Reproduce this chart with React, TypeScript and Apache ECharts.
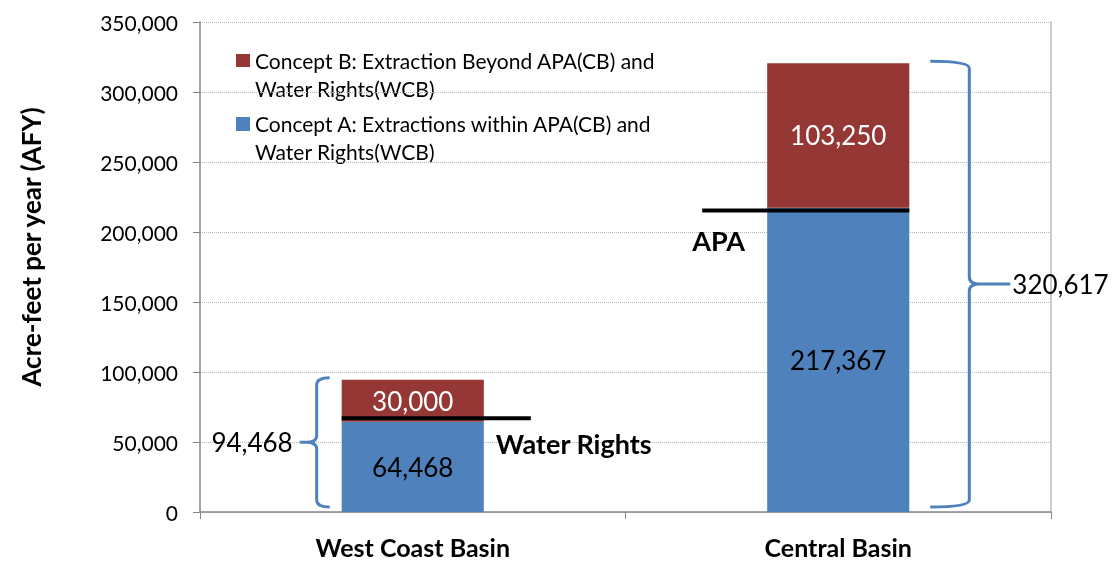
import React, { useEffect, useRef } from "react";
import * as echarts from "echarts";

// ---- data ----
const categories = ["West Coast Basin", "Central Basin"];
const conceptA = [64468, 217367]; // Extractions within APA(CB) and Water Rights(WCB)
const conceptB = [30000, 103250]; // Extraction beyond APA(CB) and Water Rights(WCB)
const annotationNames = ["Water Rights", "APA"];
const annotationLevels = [67000, 215300];
const yMin = 0;
const yMax = 350000;
const yInterval = 50000;

const nameA = "Concept A: Extractions within APA(CB) and Water Rights(WCB)";
const nameB = "Concept B: Extraction Beyond APA(CB) and Water Rights(WCB)";

const RED = "#953735";
const BLUE = "#4F81BD";
const FONT = "Lato";
const fmt = (v: number) => Number(v).toLocaleString("en-US");

export default function App() {
  const ref = useRef<HTMLDivElement>(null);

  useEffect(() => {
    if (!ref.current) return;
    const chart = echarts.init(ref.current, undefined, { renderer: "svg" });
    const totals = categories.map((_, i) => conceptA[i] + conceptB[i]);
    const BAR_FRAC = 0.334;

    const braceRender = (params: any, api: any) => {
      const i = api.value(0);
      const total = api.value(1);
      const [cx, yTop] = api.coord([i, total]);
      const [, yBot] = api.coord([i, 0]);
      const half = (api.size([1, 0])[0] * BAR_FRAC) / 2;
      const s = i === 0 ? -1 : 1;
      const off = i === 0 ? 25 : 60;
      const L = i === 0 ? 13 : 39;
      const T = i === 0 ? 17 : 41;
      const gap = i === 0 ? 7 : 2;
      const xv = cx + s * (half + off);
      const top = yTop - 2;
      const bot = yBot - 5;
      const mid = (top + bot) / 2;
      const r = 7;
      const d =
        `M ${xv - s * L} ${top} Q ${xv} ${top} ${xv} ${top + r} ` +
        `L ${xv} ${mid - r} Q ${xv} ${mid} ${xv + s * r * 1.5} ${mid} L ${xv + s * T} ${mid} ` +
        `M ${xv + s * r * 1.5} ${mid} Q ${xv} ${mid} ${xv} ${mid + r} ` +
        `L ${xv} ${bot - r} Q ${xv} ${bot} ${xv - s * L} ${bot}`;
      return {
        type: "group",
        children: [
          {
            type: "path",
            shape: { pathData: d },
            style: { stroke: BLUE, lineWidth: 3, fill: "none" },
          },
          {
            type: "text",
            style: {
              text: fmt(total),
              x: xv + s * (T + gap),
              y: mid,
              align: s < 0 ? "right" : "left",
              verticalAlign: "middle",
              fontSize: 26,
              fontFamily: FONT,
              fill: "#000",
            },
          },
        ],
      };
    };

    const annoRender = (params: any, api: any) => {
      const i = api.value(0);
      const level = api.value(1);
      const [cx, y] = api.coord([i, level]);
      const half = (api.size([1, 0])[0] * BAR_FRAC) / 2;
      const left = cx - half;
      const right = cx + half;
      let x1, x2, tx, ty;
      if (i === 0) {
        x1 = left;
        x2 = right + 47;
        tx = right + 12;
        ty = y + 25;
      } else {
        x1 = left - 65;
        x2 = right;
        tx = left - 75;
        ty = y + 30;
      }
      return {
        type: "group",
        children: [
          {
            type: "line",
            shape: { x1, y1: y, x2, y2: y },
            style: { stroke: "#000", lineWidth: 4 },
          },
          {
            type: "text",
            style: {
              text: annotationNames[i],
              x: tx,
              y: ty,
              align: "left",
              verticalAlign: "middle",
              fontSize: 27,
              fontWeight: "bold",
              fontFamily: FONT,
              fill: "#000",
            },
          },
        ],
      };
    };

    chart.setOption({
      animation: false,
      textStyle: { fontFamily: FONT },
      grid: { left: 200, right: 65, top: 22, bottom: 50 },
      xAxis: {
        type: "category",
        data: categories,
        axisLine: { lineStyle: { color: "#868686", width: 1.5 } },
        axisTick: { show: true, length: 7, lineStyle: { color: "#868686" } },
        axisLabel: {
          margin: 22,
          fontSize: 25,
          lineHeight: 25,
          fontWeight: "bold",
          fontFamily: FONT,
          color: "#000",
        },
      },
      yAxis: [
        {
          type: "value",
          min: yMin,
          max: yMax,
          interval: yInterval,
          name: "Acre-feet per year (AFY)",
          nameLocation: "middle",
          nameGap: 156,
          nameTextStyle: {
            fontSize: 26,
            fontWeight: "bold",
            fontFamily: FONT,
            color: "#000",
            padding: [0, 0, 0, 40],
          },
          axisLine: { show: true, lineStyle: { color: "#868686", width: 1.5 } },
          axisTick: { show: true, length: 7, lineStyle: { color: "#868686" } },
          axisLabel: {
            margin: 22,
            fontSize: 21,
            fontFamily: FONT,
            color: "#000",
            formatter: (v: number) => fmt(v),
          },
          splitLine: { lineStyle: { color: "#b4b4b4", type: "dotted", width: 1 } },
        },
        {
          type: "value",
          min: yMin,
          max: yMax,
          interval: yInterval,
          position: "right",
          axisLine: { show: true, lineStyle: { color: "#bdbdbd", width: 1.5 } },
          axisTick: { show: false },
          axisLabel: { show: false },
          splitLine: { show: false },
        },
      ],
      series: [
        {
          name: nameA,
          type: "bar",
          stack: "total",
          barWidth: BAR_FRAC * 100 + "%",
          data: conceptA,
          itemStyle: { color: BLUE },
          label: {
            show: true,
            position: "inside",
            fontSize: 26,
            fontFamily: FONT,
            color: "#000",
            formatter: (p: any) => fmt(p.value),
          },
        },
        {
          name: nameB,
          type: "bar",
          stack: "total",
          barWidth: BAR_FRAC * 100 + "%",
          data: conceptB,
          itemStyle: { color: RED },
          label: {
            show: true,
            position: "inside",
            fontSize: 26,
            fontFamily: FONT,
            color: "#fff",
            formatter: (p: any) => fmt(p.value),
          },
        },
        {
          type: "custom",
          name: "Totals",
          renderItem: braceRender,
          data: categories.map((_, i) => [i, totals[i]]),
          z: 5,
          silent: true,
        },
        {
          type: "custom",
          name: "Limits",
          renderItem: annoRender,
          data: categories.map((_, i) => [i, annotationLevels[i]]),
          z: 6,
          silent: true,
        },
      ],
      graphic: [
        {
          type: "rect",
          shape: { x: 236, y: 54, width: 14, height: 13 },
          style: { fill: RED },
        },
        {
          type: "text",
          x: 255,
          y: 46,
          style: {
            text: "Concept B: Extraction Beyond APA(CB) and\nWater Rights(WCB)",
            fontSize: 21,
            fontFamily: FONT,
            lineHeight: 28,
            fill: "#000",
            verticalAlign: "top",
          },
        },
        {
          type: "rect",
          shape: { x: 236, y: 117, width: 14, height: 14 },
          style: { fill: BLUE },
        },
        {
          type: "text",
          x: 255,
          y: 109,
          style: {
            text: "Concept A: Extractions within APA(CB) and\nWater Rights(WCB)",
            fontSize: 21,
            fontFamily: FONT,
            lineHeight: 28,
            fill: "#000",
            verticalAlign: "top",
          },
        },
      ],
    });

    return () => chart.dispose();
  }, []);

  return (
    <div
      ref={ref}
      style={{ position: "fixed", left: 0, top: 0, width: 1116, height: 562 }}
    />
  );
}
